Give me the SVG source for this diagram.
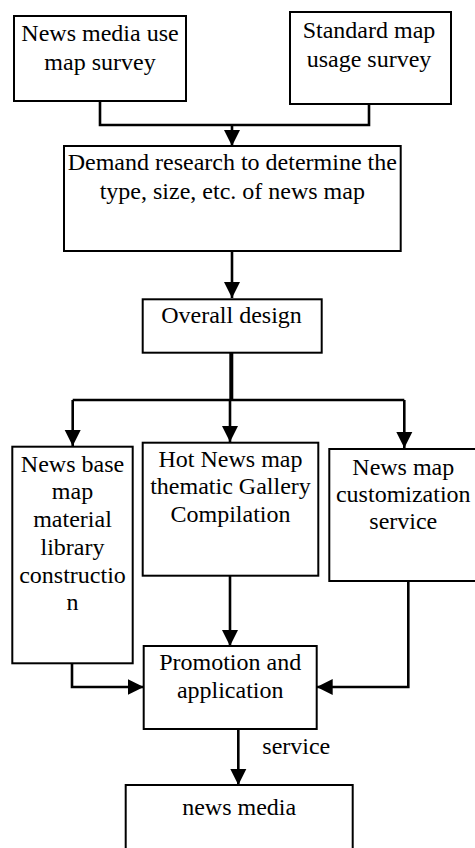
<svg xmlns="http://www.w3.org/2000/svg" width="475" height="848" viewBox="0 0 475 848">
<style>
.box{fill:#fff;stroke:#000;stroke-width:2}
.t{font-family:"Liberation Serif","Times New Roman",serif;font-size:24px;fill:#000;text-anchor:middle}
.c{fill:none;stroke:#000;stroke-width:2.6}
</style>
<defs>
<marker id="ah" markerUnits="userSpaceOnUse" markerWidth="18" markerHeight="18" viewBox="0 0 18 18" refX="16" refY="9" orient="auto">
<path d="M0,1 L16,9 L0,17 Z" fill="#000"/>
</marker>
</defs>
<rect width="475" height="848" fill="#fff"/>
<g id="connectors">
<polyline class="c" points="100,101 100,125 369,125 369,104"/>
<line class="c" x1="232" y1="125" x2="232" y2="146" marker-end="url(#ah)"/>
<line class="c" x1="232" y1="251" x2="232" y2="298" marker-end="url(#ah)"/>
<line class="c" x1="231.3" y1="353" x2="231.3" y2="400" style="stroke-width:4"/>
<line class="c" x1="72.7" y1="400" x2="404.3" y2="400"/>
<line class="c" x1="72.7" y1="400" x2="72.7" y2="446" marker-end="url(#ah)"/>
<line class="c" x1="230" y1="400" x2="230" y2="442" marker-end="url(#ah)"/>
<line class="c" x1="404.3" y1="400" x2="404.3" y2="448" marker-end="url(#ah)"/>
<line class="c" x1="230" y1="576" x2="230" y2="646" marker-end="url(#ah)"/>
<polyline class="c" points="72,663 72,687 143.7,687" marker-end="url(#ah)"/>
<polyline class="c" points="408.3,581 408.3,687 316.7,687" marker-end="url(#ah)"/>
<line class="c" x1="238.3" y1="729" x2="238.3" y2="785" marker-end="url(#ah)"/>
<text class="t" x="296.3" y="754.3">service</text>
</g>
<g id="n1">
<rect class="box" x="14" y="16" width="172" height="85"/>
<text class="t" x="100" y="41">News media use</text>
<text class="t" x="100" y="70">map survey</text>
</g>
<g id="n2">
<rect class="box" x="290" y="12" width="161" height="92"/>
<text class="t" x="369" y="37.5">Standard map</text>
<text class="t" x="369" y="66.5">usage survey</text>
</g>
<g id="n3">
<rect class="box" x="64" y="146" width="336.7" height="105"/>
<text class="t" x="232.3" y="170">Demand research to determine the</text>
<text class="t" x="232.3" y="199.3">type, size, etc. of news map</text>
</g>
<g id="n4">
<rect class="box" x="142.7" y="299.3" width="179" height="53.4"/>
<text class="t" x="231.5" y="323.3">Overall design</text>
</g>
<g id="n5">
<rect class="box" x="12.3" y="446.7" width="120.4" height="216.6"/>
<text class="t" x="72.5" y="471.7">News base</text>
<text class="t" x="72.5" y="499.4">map</text>
<text class="t" x="72.5" y="527.1">material</text>
<text class="t" x="72.5" y="554.8">library</text>
<text class="t" x="72.5" y="582.5">constructio</text>
<text class="t" x="72.5" y="610.2">n</text>
</g>
<g id="n6">
<rect class="box" x="142.7" y="442.7" width="175.6" height="133"/>
<text class="t" x="230.5" y="466.7">Hot News map</text>
<text class="t" x="230.5" y="494">thematic Gallery</text>
<text class="t" x="230.5" y="521.7">Compilation</text>
</g>
<g id="n7">
<rect class="box" x="329.3" y="449" width="150" height="132"/>
<text class="t" x="403.3" y="475">News map</text>
<text class="t" x="403.3" y="501.7">customization</text>
<text class="t" x="403.3" y="529">service</text>
</g>
<g id="n8">
<rect class="box" x="143.7" y="646" width="173" height="83"/>
<text class="t" x="230.2" y="670">Promotion and</text>
<text class="t" x="230.2" y="697.7">application</text>
</g>
<g id="n9">
<rect class="box" x="125.7" y="785" width="227" height="70"/>
<text class="t" x="239.2" y="815">news media</text>
</g>
</svg>
